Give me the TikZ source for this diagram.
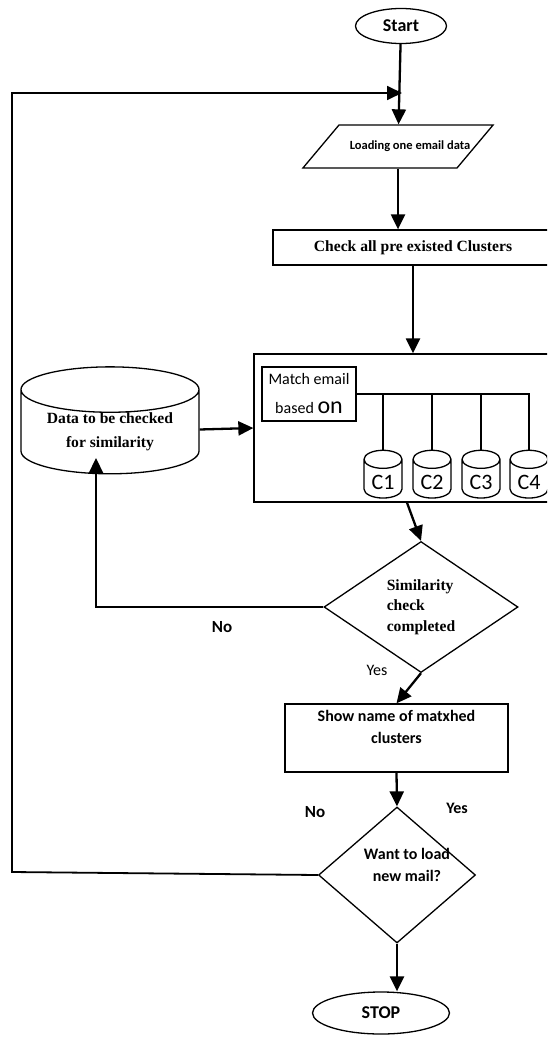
\documentclass[tikz,border=0pt]{standalone}
\usepackage{fontspec}
\setmainfont{Liberation Serif}
\newfontfamily\calib{Carlito}
\usetikzlibrary{shapes.geometric,arrows.meta}

\tikzset{
    box/.style={draw, shape=rectangle, line width=1.3pt},
    terminal/.style={draw, shape=ellipse, line width=1.3pt, inner sep=0pt, font=\calib\bfseries\fontsize{18}{20}\selectfont},
    decision/.style={draw, shape=diamond, line width=1.3pt, inner sep=0pt},
    store/.style={draw, shape=cylinder, shape border rotate=90, line width=1.3pt, inner sep=0pt},
    serifbold/.style={font=\bfseries\fontsize{15.6}{20.5}\selectfont},
    sansbold/.style={font=\calib\bfseries\fontsize{16}{22}\selectfont},
    sans/.style={font=\calib\fontsize{16}{29}\selectfont},
    flow/.style={line width=2.3pt, -{Triangle[length=15pt,width=14pt]}},
    wire/.style={line width=1.3pt},
}

\begin{document}
    \begin{tikzpicture}[x=1pt, y=-1pt]
        \useasboundingbox (0, 0) rectangle (547, 1038);
        \clip (0, 0) rectangle (547, 1038);

        \node (start) at (401, 26) [terminal, minimum width=91pt, minimum height=35pt] {Start};
        \node (load) at (398, 146.5) [draw, shape=trapezium, trapezium left angle=50, trapezium right angle=130, line width=1.3pt, inner xsep=0pt, inner ysep=15.5pt, text height=9pt, text depth=3pt, font=\calib\bfseries\fontsize{12.5}{14}\selectfont] {\makebox[118pt][c]{\hspace*{24pt}Loading one email data}};
        \node (check) at (413, 247.5) [box, minimum width=280pt, minimum height=35pt, serifbold] {Check all pre existed Clusters};

        \node (bigbox) at (407, 428) [box, minimum width=306pt, minimum height=148pt] {};
        \node (match) at (309, 394) [box, minimum width=94pt, minimum height=54pt, inner sep=0pt, align=center, sans] {Match email\\based {\fontsize{24}{29}\selectfont on}};
        \foreach \i/\x in {1/383, 2/432, 3/481, 4/529}
            \node (c\i) at (\x, 479) [store, minimum width=38pt, minimum height=42pt, aspect=0.79, text height=20pt, text depth=-12pt, font=\calib\fontsize{22}{22}\selectfont] {C\i};
        \draw[wire] (match.east) -| (c4.north);
        \foreach \i in {1, 2, 3}
            \draw[wire] (c\i.north |- match.east) -- (c\i.north);

        \node (data) at (110, 432) [store, minimum width=178pt, minimum height=101pt, aspect=0.36, align=center, font=\bfseries\fontsize{15.6}{24}\selectfont] {Data to be checked\\for similarity};

        \node (sim) at (421, 607) [decision, minimum width=194pt, minimum height=131pt, aspect=1.48, align=left, serifbold] {Similarity\\check\\completed};
        \node (show) at (396.5, 738) [box, minimum width=223pt, minimum height=68pt, align=center, sansbold] {Show name of matxhed\\clusters\\~};
        \node (want) at (397, 875) [decision, minimum width=157pt, minimum height=136pt] {};
        \node (wanttext) at (407, 865) [sansbold, align=center] {Want to load\\new mail?};
        \node (stop) at (381, 1013) [terminal, minimum width=137pt, minimum height=42pt] {STOP};

        \node (no1) at (222, 627) [font=\calib\bfseries\fontsize{17}{20}\selectfont] {No};
        \node (yes1) at (377, 670) [sans] {Yes};
        \node (no2) at (315, 812) [font=\calib\bfseries\fontsize{17}{20}\selectfont] {No};
        \node (yes2) at (457, 808) [sansbold] {Yes};

        \coordinate (loopbl) at (12, 872);
        \coordinate (looptl) at (12, 93);
        \coordinate (loopend) at (402, 93);
        \coordinate (nobend) at (96, 607);
        \coordinate (dataend) at (96, 458);

        \draw[flow] (start) -- (load);
        \draw[flow, line width=1.8pt] (want.west) -- (loopbl) -- (looptl) -- (loopend);
        \draw[flow] (load.south) -- (load.south |- check.north);
        \draw[flow] (check.south) -- (check.south |- bigbox.north);
        \draw[flow] (data) -- (bigbox.west);
        \draw[flow] (bigbox.south) -- (sim.north);
        \draw[flow] (sim.west) -- (nobend) -- (dataend);
        \draw[flow] (sim.south) -- (show.north);
        \draw[flow] (show.south) -- (want.north);
        \draw[flow] (want.south) -- (want.south |- stop.north);
    \end{tikzpicture}
\end{document}
